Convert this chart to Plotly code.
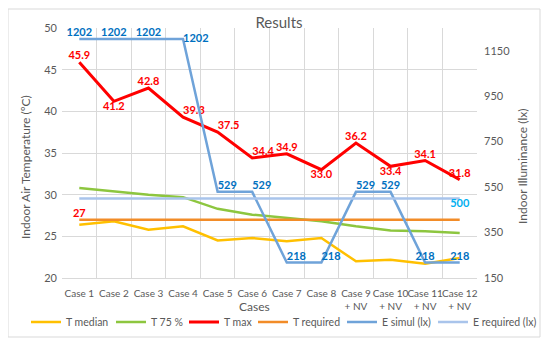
import plotly.graph_objects as go

cases = ["Case 1", "Case 2", "Case 3", "Case 4", "Case 5", "Case 6", "Case 7", "Case 8",
         "Case 9<br>+ NV", "Case 10<br>+ NV", "Case 11<br>+ NV", "Case 12<br>+ NV"]
t_median = [26.4, 26.8, 25.8, 26.2, 24.5, 24.8, 24.4, 24.8, 22.0, 22.2, 21.7, 22.4]
t_75 = [30.8, 30.4, 30.0, 29.7, 28.3, 27.6, 27.2, 26.8, 26.2, 25.7, 25.6, 25.4]
t_max = [45.9, 41.2, 42.8, 39.3, 37.5, 34.4, 34.9, 33.0, 36.2, 33.4, 34.1, 31.8]
t_required = [27] * 12
e_simul = [1202, 1202, 1202, 1202, 529, 529, 218, 218, 529, 529, 218, 218]
e_required = [500] * 12

tmax_pos = ["top center", "bottom center", "top center", "top right", "top right", "top right",
            "top center", "bottom center", "top center", "bottom center", "top center", "top center"]
esim_pos = ["top center", "top center", "top center", "middle right", "top right", "top right",
            "top right", "top right", "top right", "top center", "top center", "top center"]

FONT = "Lato"
GREY = "#595959"
W, H = 542, 339
L, R, T, B = 54, 73, 20, 69
PW, PH = W - L - R, H - T - B

fig = go.Figure()
fig.add_trace(go.Scatter(x=cases, y=t_median, name="T median", mode="lines", legend="legend",
                         line=dict(color="#FFC000", width=2.5)))
fig.add_trace(go.Scatter(x=cases, y=t_75, name="T 75 %", mode="lines", legend="legend2",
                         line=dict(color="#8DC63F", width=2.5)))
fig.add_trace(go.Scatter(x=cases, y=t_max, name="T max", mode="lines+text", legend="legend3",
                         line=dict(color="#FF0000", width=3),
                         text=[f"{v:.1f}" for v in t_max], textposition=tmax_pos,
                         textfont=dict(color="#FF0000", size=11, family=FONT, weight="bold")))
fig.add_trace(go.Scatter(x=cases, y=t_required, name="T required", mode="lines+text", legend="legend4",
                         line=dict(color="#F28C28", width=2.5),
                         text=[str(t_required[0])] + [""] * 11, textposition="top center",
                         textfont=dict(color="#FF0000", size=11, family=FONT, weight="bold")))
fig.add_trace(go.Scatter(x=cases, y=e_simul, name="E simul (lx)", mode="lines+text", yaxis="y2",
                         legend="legend5", line=dict(color="#6FA3D9", width=2.5),
                         text=[str(v) for v in e_simul], textposition=esim_pos,
                         textfont=dict(color="#0070C0", size=11, family=FONT, weight="bold")))
fig.add_trace(go.Scatter(x=cases, y=e_required, name="E required (lx)", mode="lines+text", yaxis="y2",
                         legend="legend6", line=dict(color="#A9C4EB", width=2.5),
                         text=[""] * 11 + [str(e_required[-1])], textposition="bottom center",
                         textfont=dict(color="#00B0F0", size=11, family=FONT, weight="bold")))

# legend text starting x (page px) in the reference
legend_text_x = [57, 142, 215, 284, 373, 464]
legend_y = (PH - (314 - T)) / PH
legends = {}
for i, tx in enumerate(legend_text_x):
    key = "legend" if i == 0 else f"legend{i + 1}"
    legends[key] = dict(orientation="h", xref="container", x=(tx - 8 - 31) / W, xanchor="left",
                        yref="paper", y=legend_y, yanchor="middle",
                        font=dict(size=10.5, color=GREY, family=FONT), itemwidth=30,
                        bgcolor="rgba(0,0,0,0)", borderwidth=0)

fig.update_layout(
    width=W, height=H,
    margin=dict(l=L, r=R, t=T, b=B, autoexpand=False),
    paper_bgcolor="white", plot_bgcolor="white",
    font=dict(family=FONT, color=GREY, size=11),
    showlegend=True,
    title=dict(text="Results", x=0.5, xanchor="center", xref="container",
               y=1 - 15 / H, yanchor="middle", yref="container",
               font=dict(size=15, color=GREY, family=FONT)),
    xaxis=dict(type="category", tickson="boundaries", showgrid=True, gridcolor="#D9D9D9",
               gridwidth=1, ticks="", showline=True, linecolor="#D9D9D9", tickangle=0,
               ticklabelstandoff=6, tickfont=dict(size=10, color=GREY),
               range=[-0.5, 11.5]),
    yaxis=dict(range=[20, 50], dtick=5, showgrid=True, gridcolor="#D9D9D9", zeroline=False,
               ticks="", ticklabelstandoff=4, tickfont=dict(size=11, color=GREY)),
    yaxis2=dict(range=[150, 1250], tick0=150, dtick=200, overlaying="y", side="right",
                showgrid=False, zeroline=False, ticks="", ticklabelstandoff=6,
                tickfont=dict(size=11, color=GREY)),
    annotations=[
        dict(text="Cases", xref="paper", yref="paper", x=(246.5 - L) / PW, y=(PH - (298 - T)) / PH,
             xanchor="center", yanchor="middle", showarrow=False,
             font=dict(size=12, color=GREY, family=FONT)),
        dict(text="Indoor Air Temperature (ºC)", xref="paper", yref="paper", textangle=-90,
             x=(17 - L) / PW, y=(PH - (159 - T)) / PH, xanchor="center", yanchor="middle",
             showarrow=False, font=dict(size=12, color=GREY, family=FONT)),
        dict(text="Indoor Illuminance (lx)", xref="paper", yref="paper", textangle=-90,
             x=(514 - L) / PW, y=(PH - (159 - T)) / PH, xanchor="center", yanchor="middle",
             showarrow=False, font=dict(size=12, color=GREY, family=FONT)),
    ],
    shapes=[dict(type="rect", xref="paper", yref="paper", x0=(0 - L) / PW, x1=(532 - L) / PW,
                 y0=(PH - (329 - T)) / PH, y1=(PH - (1 - T)) / PH,
                 line=dict(color="#D9D9D9", width=1), fillcolor="rgba(0,0,0,0)", layer="below")],
    **legends,
)

fig.write_html("out.html")
